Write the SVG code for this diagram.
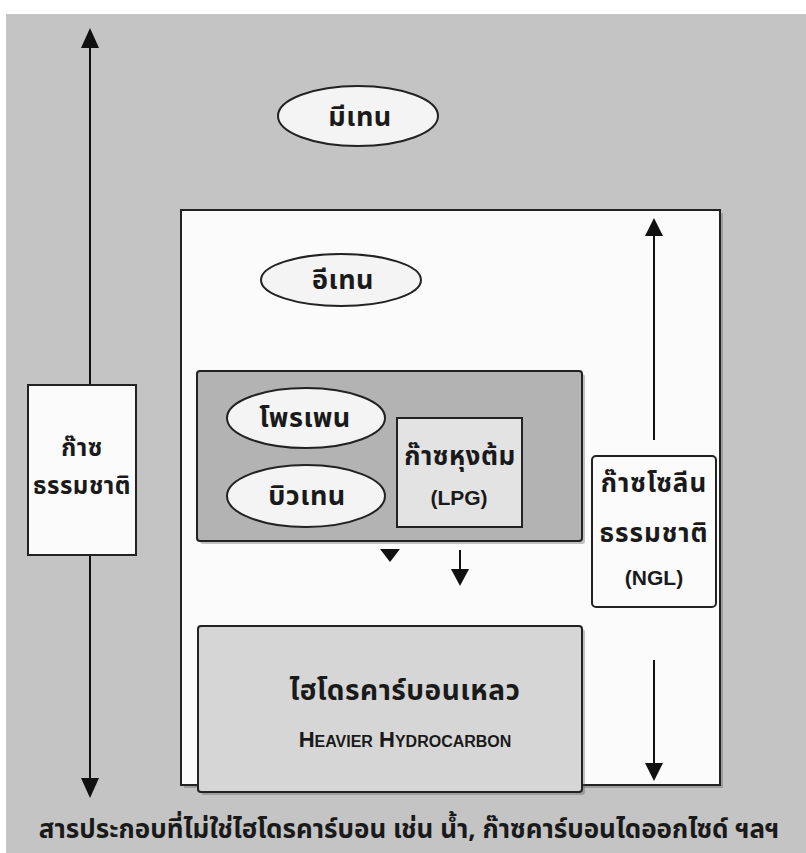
<svg xmlns="http://www.w3.org/2000/svg" width="806" height="853" viewBox="0 0 806 853">
<defs>
<style>
.t{font-family:"Noto Sans Thai","Noto Sans","DejaVu Sans","Liberation Sans",sans-serif;font-weight:bold;fill:#1a1a1a;text-anchor:middle}
.e{font-family:"Liberation Sans","Noto Sans",sans-serif;font-weight:bold;fill:#1a1a1a;text-anchor:middle}
.box{stroke:#222;stroke-width:2}
.ell{fill:#f4f4f4;stroke:#222;stroke-width:2}
.ln{stroke:#111;stroke-width:2}
.hd{fill:#111}
.sh{fill:#555;opacity:0.35}
</style>
</defs>
<rect x="0" y="0" width="806" height="853" fill="#ffffff"/>
<rect x="6" y="14" width="800" height="839" fill="#c4c4c4"/>

<g id="outer-box"><rect class="sh" x="184" y="213" width="539" height="575"/><rect class="box" x="181" y="210" width="539" height="575" fill="#fbfbfb"/></g>

<g id="connectors">
<line class="ln" x1="90" y1="385" x2="90" y2="44"/>
<polygon class="hd" points="90,28 81,48 99,48"/>
<line class="ln" x1="90" y1="555" x2="90" y2="780"/>
<polygon class="hd" points="90,798 81,778 99,778"/>
<line class="ln" x1="654" y1="440" x2="654" y2="232"/>
<polygon class="hd" points="654,218 645,236 663,236"/>
<line class="ln" x1="654" y1="660" x2="654" y2="765"/>
<polygon class="hd" points="654,781 645,763 663,763"/>
<line class="ln" x1="460" y1="418" x2="460" y2="392"/>
<polygon class="hd" points="460,378 452,395 468,395"/>
<polygon class="hd" points="380,549 400,549 390,562"/>
<line class="ln" x1="460" y1="550" x2="460" y2="572"/>
<polygon class="hd" points="460,586 451,569 469,569"/>
</g>

<g id="methane"><ellipse class="ell" cx="358" cy="116" rx="80" ry="30"/><text class="t" x="360" y="126" font-size="27" letter-spacing="0.5">มีเทน</text></g>
<g id="ethane"><ellipse class="ell" cx="341" cy="280" rx="80" ry="26"/><text class="t" x="343" y="289" font-size="27" letter-spacing="0.5">อีเทน</text></g>

<g id="lpg-group"><rect class="sh" x="200" y="374" width="385" height="170" rx="3"/><rect class="box" x="197" y="371" width="385" height="170" fill="#b3b3b3" rx="3"/></g>
<g id="propane"><ellipse class="ell" cx="306" cy="418" rx="79" ry="30"/><text class="t" x="305" y="427" font-size="27" letter-spacing="0.5">โพรเพน</text></g>
<g id="butane"><ellipse class="ell" cx="306" cy="496" rx="79" ry="31"/><text class="t" x="307" y="505" font-size="27" letter-spacing="0.5">บิวเทน</text></g>
<g id="lpg"><rect class="box" x="397" y="418" width="125" height="109" fill="#e3e3e3"/><text class="t" x="460" y="465" font-size="26" letter-spacing="0.5">ก๊าซหุงต้ม</text><text class="e" x="459" y="505" font-size="21">(LPG)</text></g>

<g id="ngl"><rect class="box" x="592" y="456" width="124" height="151" fill="#fbfbfb" rx="4"/><text class="t" x="654" y="492" font-size="26" letter-spacing="1">ก๊าซโซลีน</text><text class="t" x="654" y="542" font-size="26" letter-spacing="1">ธรรมชาติ</text><text class="e" x="654" y="585" font-size="21">(NGL)</text></g>

<g id="natural-gas"><rect class="box" x="28" y="385" width="108" height="170" fill="#fbfbfb"/><text class="t" x="82" y="456" font-size="24" letter-spacing="0.5">ก๊าซ</text><text class="t" x="82" y="494" font-size="24" letter-spacing="0.5">ธรรมชาติ</text></g>

<g id="heavier"><rect class="sh" x="201" y="629" width="384" height="166" rx="3"/><rect class="box" x="198" y="626" width="384" height="166" fill="#d6d6d6" rx="3"/><text class="t" x="405" y="700" font-size="28" letter-spacing="0.5">ไฮโดรคาร์บอนเหลว</text><text class="e" x="405" y="747" font-size="22">H<tspan font-size="16">EAVIER</tspan> H<tspan font-size="16">YDROCARBON</tspan></text></g>

<g id="footer"><text class="t" x="409" y="838" font-size="26">สารประกอบที่ไม่ใช่ไฮโดรคาร์บอน เช่น น้ำ, ก๊าซคาร์บอนไดออกไซด์ ฯลฯ</text></g>
</svg>
